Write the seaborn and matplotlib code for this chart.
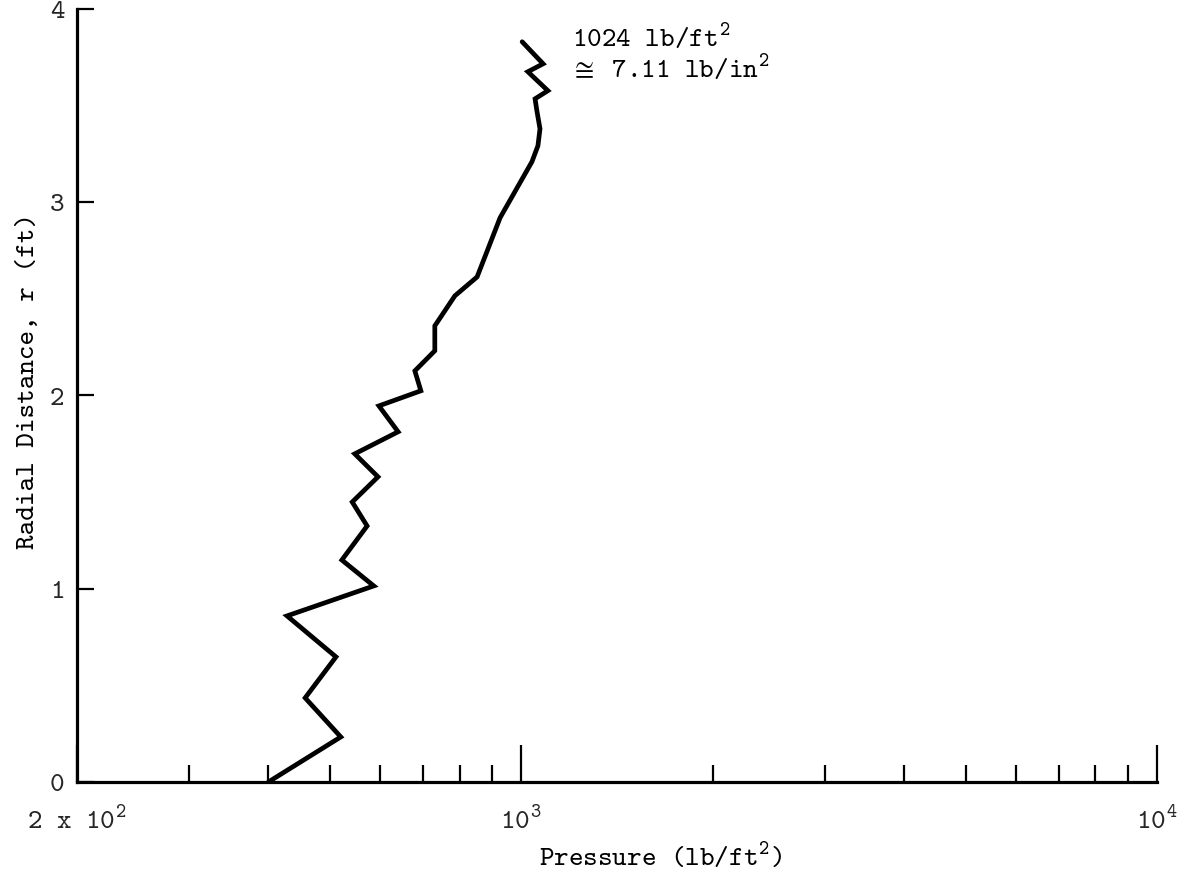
import matplotlib
matplotlib.use('Agg')
import matplotlib.pyplot as plt
import seaborn as sns
import pandas as pd
from matplotlib.ticker import FixedLocator, FixedFormatter, NullFormatter

# ---- data ----
pressure = [400, 520, 457, 511, 428, 586, 522, 572, 542, 595, 547, 640, 597, 695,
            680, 731, 731, 786, 852, 926, 1039, 1062, 1070, 1058, 1051, 1101, 1024,
            1082, 1003]
radius = [0.0, 0.233, 0.435, 0.647, 0.859, 1.014, 1.148, 1.324, 1.448, 1.578, 1.697,
          1.811, 1.945, 2.023, 2.126, 2.230, 2.359, 2.514, 2.612, 2.918, 3.207, 3.290,
          3.378, 3.471, 3.533, 3.575, 3.673, 3.714, 3.828]

x_major_ticks = [200, 1000, 10000]
x_major_labels = [r'2 x 10$^2$', r'10$^3$', r'10$^4$']
x_minor_ticks = [300, 400, 500, 600, 700, 800, 900,
                 2000, 3000, 4000, 5000, 6000, 7000, 8000, 9000]
y_ticks = [0, 1, 2, 3, 4]
y_labels = ['0', '1', '2', '3', '4']
y_top_tick = [4]
annotation = [r'1024 lb/ft$^2$', r'$\cong$ 7.11 lb/in$^2$']
x_title = r'Pressure (lb/ft$^2$)'
y_title = 'Radial Distance, r (ft)'

FS = 20

# ---- style ----
sns.set_theme(style='white')
plt.rcParams['font.family'] = ['cmtt10', 'DejaVu Sans']
plt.rcParams['mathtext.fontset'] = 'custom'
plt.rcParams['mathtext.rm'] = 'cmtt10'
plt.rcParams['mathtext.it'] = 'cmtt10'
plt.rcParams['mathtext.bf'] = 'cmtt10'
plt.rcParams['mathtext.fallback'] = 'stix'
plt.rcParams['axes.unicode_minus'] = False

fig = plt.figure(figsize=(11.88, 8.87), dpi=100)
ax = fig.add_axes([77 / 1188, 1 - 783 / 887, (1157 - 77) / 1188, (783 - 9.5) / 887])

df = pd.DataFrame({'pressure': pressure, 'radius': radius})
sns.lineplot(data=df, x='pressure', y='radius', sort=False, estimator=None,
             color='black', lw=3.4, ax=ax, solid_joinstyle='miter')

ax.set_xscale('log')
ax.set_xlim(200, 10000)
ax.set_ylim(0, 4)

ax.xaxis.set_major_locator(FixedLocator(x_major_ticks))
ax.xaxis.set_major_formatter(FixedFormatter(x_major_labels))
ax.xaxis.set_minor_locator(FixedLocator(x_minor_ticks))
ax.xaxis.set_minor_formatter(NullFormatter())
ax.yaxis.set_major_locator(FixedLocator(y_ticks))
ax.yaxis.set_major_formatter(FixedFormatter(y_labels))
ax.yaxis.set_minor_locator(FixedLocator(y_top_tick))
ax.yaxis.set_minor_formatter(NullFormatter())

ax.tick_params(axis='x', which='major', direction='in', length=27, width=1.6,
               color='black', labelsize=FS, pad=17, bottom=True)
ax.tick_params(axis='x', which='minor', direction='in', length=12.5, width=1.6,
               color='black', bottom=True)
ax.tick_params(axis='y', which='major', direction='in', length=12.5, width=1.6,
               color='black', labelsize=FS, pad=9, left=True)
ax.tick_params(axis='y', which='minor', direction='in', length=19, width=2.0,
               color='black', left=True)

for side in ['top', 'right']:
    ax.spines[side].set_visible(False)
for side in ['left', 'bottom']:
    ax.spines[side].set_linewidth(2.3)
    ax.spines[side].set_color('black')

ax.set_xlabel(x_title, fontsize=FS, color='black')
ax.set_ylabel(y_title, fontsize=FS, color='black')
ax.xaxis.label.set_va('baseline')
ax.xaxis.set_label_coords(0.541, -0.107)
ax.yaxis.set_label_coords(-0.034, 0.52)

ax.text(0.458, 0.9515, annotation[0], transform=ax.transAxes, fontsize=FS,
        ha='left', va='baseline', color='black')
ax.text(0.458, 0.9114, annotation[1], transform=ax.transAxes, fontsize=FS,
        ha='left', va='baseline', color='black')

fig.savefig('out.png', dpi=100, facecolor='white')
